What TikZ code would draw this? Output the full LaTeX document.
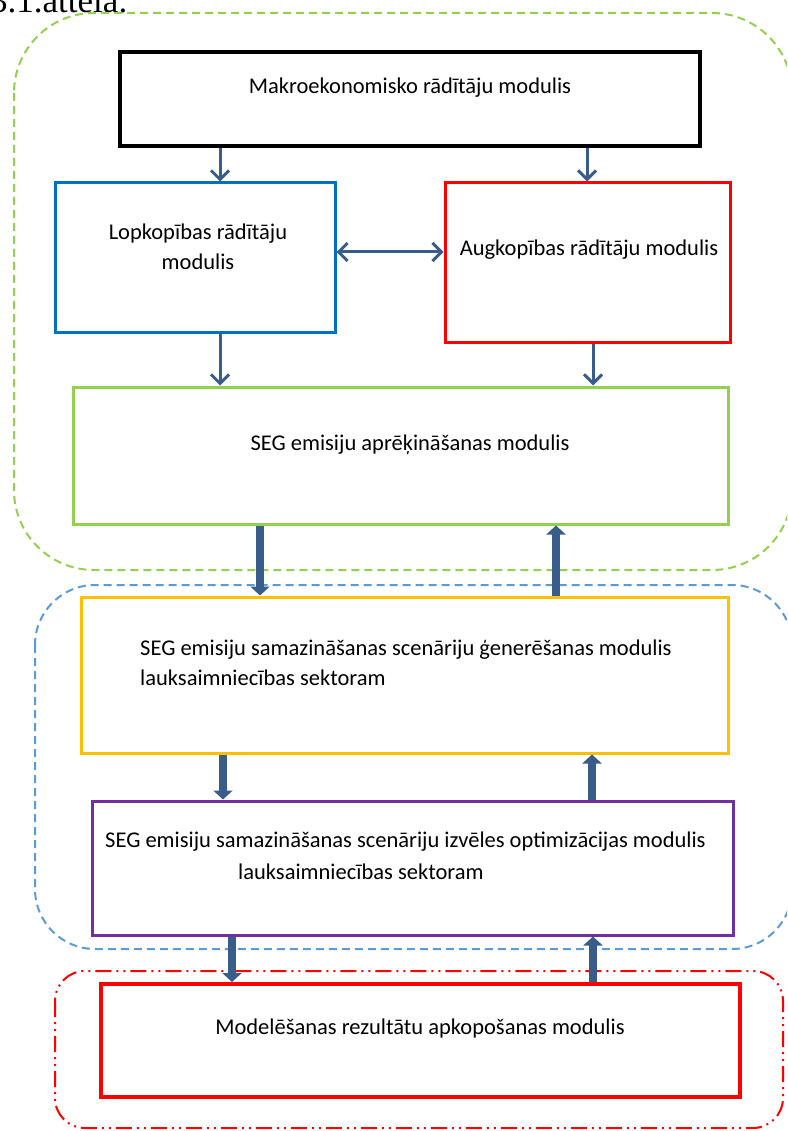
\documentclass[tikz,border=0pt]{standalone}
\usepackage{fontspec}
\setmainfont{Carlito}
\newfontfamily\capfont{Liberation Serif}
\usetikzlibrary{arrows.meta}

\definecolor{arrowblue}{HTML}{385D8A}
\definecolor{boxblue}{HTML}{0070C0}
\definecolor{boxgreen}{HTML}{92D050}
\definecolor{boxyellow}{HTML}{FFC000}
\definecolor{boxpurple}{HTML}{7030A0}
\definecolor{grpblue}{HTML}{5B9BD5}

\begin{document}
\begin{tikzpicture}[x=1pt,y=-1pt,
  box/.style={draw, rectangle, inner sep=0pt, line width=3pt},
  lbl/.style={font=\fontsize{22.5}{30}\selectfont, inner sep=0pt, align=center},
  thinarrow/.style={draw=arrowblue, line width=3pt, -{Straight Barb[length=9pt,width=18pt]}},
  dblarrow/.style={draw=arrowblue, line width=3pt, {Straight Barb[length=9pt,width=18pt]}-{Straight Barb[length=9pt,width=18pt]}},
  thickarrow/.style={draw=arrowblue, line width=8pt, -{Triangle[length=9pt,width=19pt]}},
  group/.style={line width=2pt, rounded corners=#1},
]
\useasboundingbox (0,0) rectangle (787,1131);
\clip (0,0) rectangle (787,1131);

% caption
\node[anchor=base west, inner sep=0pt, font=\capfont\fontsize{35}{35}\selectfont] (cap) at (-10,13) {3.1.attēla.};

% grouping frames
\draw[group=80pt, boxgreen, dash pattern=on 8pt off 5pt] (14,13) rectangle (792,570);
\draw[group=60pt, grpblue, dash pattern=on 8pt off 5pt] (35,585) rectangle (792,949);
\draw[group=30pt, red, dash pattern=on 16pt off 5pt on 2pt off 5pt on 2pt off 5pt] (55,971) rectangle (783,1128);

% module boxes
\node[box, line width=4pt, draw=black, minimum width=580pt, minimum height=94pt] (mak) at (410,99) {};
\node[box, draw=boxblue, minimum width=280pt, minimum height=149pt] (lop) at (195,257.5) {};
\node[box, draw=red, minimum width=285pt, minimum height=159pt] (aug) at (587.5,262.5) {};
\node[box, draw=boxgreen, minimum width=655pt, minimum height=137pt] (seg) at (400.5,455.5) {};
\node[box, draw=boxyellow, minimum width=647pt, minimum height=156pt] (gen) at (404.5,675) {};
\node[box, draw=boxpurple, minimum width=641pt, minimum height=134pt] (opt) at (412.5,868) {};
\node[box, line width=4pt, draw=red, minimum width=639pt, minimum height=113pt] (res) at (420.5,1040.5) {};

% module texts
\node[lbl] (makT) at (410,88) {Makroekonomisko rādītāju modulis};
\node[lbl] (lopT) at (198,247) {Lopkopības rādītāju\\modulis};
\node[lbl] (augT) at (589,250) {Augkopības rādītāju modulis};
\node[lbl] (segT) at (410,445) {SEG emisiju aprēķināšanas modulis};
\node[lbl, align=left, anchor=west] (genT) at (140,663) {SEG emisiju samazināšanas scenāriju ģenerēšanas modulis\\lauksaimniecības sektoram};
\node[lbl, align=left, anchor=west, font=\fontsize{22.5}{32}\selectfont] (optT) at (105,856) {SEG emisiju samazināšanas scenāriju izvēles optimizācijas modulis\\\hspace*{133pt}lauksaimniecības sektoram};
\node[lbl] (resT) at (420,1028) {Modelēšanas rezultātu apkopošanas modulis};

% connectors
\draw[thinarrow] (mak.south -| 220,0) -- (lop.north -| 220,0);
\draw[thinarrow] (mak.south -| 587,0) -- (aug.north -| 587,0);
\draw[dblarrow] (lop.east |- 0,252) -- (aug.west |- 0,252);
\draw[thinarrow] (lop.south -| 220,0) -- (seg.north -| 220,0);
\draw[thinarrow] (aug.south -| 593,0) -- (seg.north -| 593,0);

\draw[thickarrow] (seg.south -| 260,0) -- (gen.north -| 260,0);
\draw[thickarrow] (gen.north -| 556,0) -- (seg.south -| 556,0);
\draw[thickarrow] (gen.south -| 223,0) -- (opt.north -| 223,0);
\draw[thickarrow] (opt.north -| 592,0) -- (gen.south -| 592,0);
\draw[thickarrow] (opt.south -| 232,0) -- (res.north -| 232,0);
\draw[thickarrow] (res.north -| 593,0) -- (opt.south -| 593,0);
\end{tikzpicture}
\end{document}
